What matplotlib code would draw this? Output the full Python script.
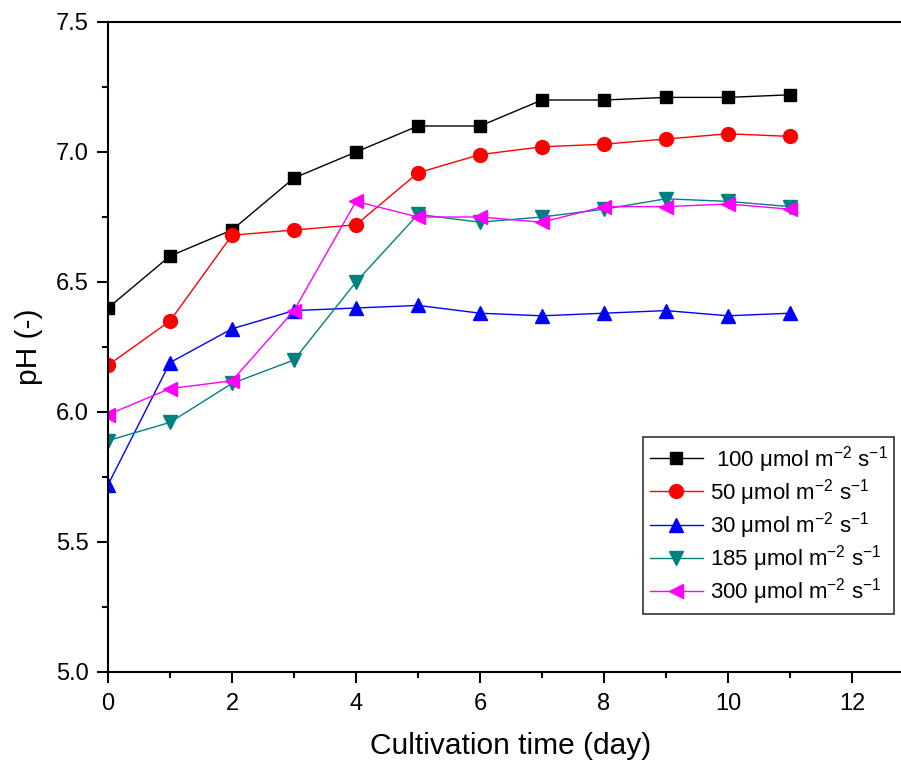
import numpy as np
import matplotlib
matplotlib.use("Agg")
import matplotlib.pyplot as plt
from matplotlib.ticker import MultipleLocator

plt.rcParams["font.family"] = ["Liberation Sans", "DejaVu Sans"]
plt.rcParams["mathtext.fontset"] = "custom"
plt.rcParams["mathtext.rm"] = "Liberation Sans"

# data
days = [0, 1, 2, 3, 4, 5, 6, 7, 8, 9, 10, 11]
ph_100 = [6.40, 6.60, 6.70, 6.90, 7.00, 7.10, 7.10, 7.20, 7.20, 7.21, 7.21, 7.22]
ph_50 = [6.18, 6.35, 6.68, 6.70, 6.72, 6.92, 6.99, 7.02, 7.03, 7.05, 7.07, 7.06]
ph_30 = [5.72, 6.19, 6.32, 6.39, 6.40, 6.41, 6.38, 6.37, 6.38, 6.39, 6.37, 6.38]
ph_185 = [5.89, 5.96, 6.11, 6.20, 6.50, 6.76, 6.73, 6.75, 6.78, 6.82, 6.81, 6.79]
ph_300 = [5.99, 6.09, 6.12, 6.39, 6.81, 6.75, 6.75, 6.73, 6.79, 6.79, 6.80, 6.78]

unit = r" $\mathregular{\mu}$mol m$^{\mathregular{-2}}$ s$^{\mathregular{-1}}$"

fig = plt.figure(figsize=(9.01, 7.67), dpi=100)
ax = fig.add_axes([108 / 901, 95 / 767, 806 / 901, 650 / 767])

ax.plot(days, ph_100, "-s", color="black", lw=1, ms=9, label=" 100" + unit)
ax.plot(days, ph_50, "-o", color="red", lw=1, ms=10, label="50" + unit)
ax.plot(days, ph_30, "-^", color="blue", lw=1, ms=10, label="30" + unit)
ax.plot(days, ph_185, "-v", color="#008080", lw=1, ms=10, label="185" + unit)
ax.plot(days, ph_300, "-<", color="magenta", lw=1, ms=10, label="300" + unit)

ax.set_xlim(0, 13)
ax.set_ylim(5.0, 7.5)
ax.xaxis.set_major_locator(MultipleLocator(2))
ax.xaxis.set_minor_locator(MultipleLocator(1))
ax.yaxis.set_major_locator(MultipleLocator(0.5))
ax.yaxis.set_minor_locator(MultipleLocator(0.25))
ax.yaxis.set_major_formatter(matplotlib.ticker.FormatStrFormatter("%.1f"))
ax.tick_params(which="major", direction="out", length=8, width=1.5, labelsize=17)
ax.tick_params(which="minor", direction="out", length=4, width=1.5)
ax.tick_params(axis="x", which="major", pad=7)
ax.tick_params(axis="y", which="major", pad=6)
for s in ax.spines.values():
    s.set_linewidth(1.5)

ax.set_xlabel("Cultivation time (day)", fontsize=21.5, labelpad=12)
ax.set_ylabel("pH (-)", fontsize=21.5, labelpad=9)

leg = ax.legend(loc="upper left", bbox_to_anchor=(643 / 901, 1 - 437 / 767),
                bbox_transform=fig.transFigure, fontsize=16, frameon=True,
                fancybox=False, edgecolor="black", handlelength=2.4,
                borderpad=0.3, labelspacing=0.1, handletextpad=0.3,
                borderaxespad=0)
leg.get_frame().set_linewidth(1.2)

fig.savefig("out.png", dpi=100)
